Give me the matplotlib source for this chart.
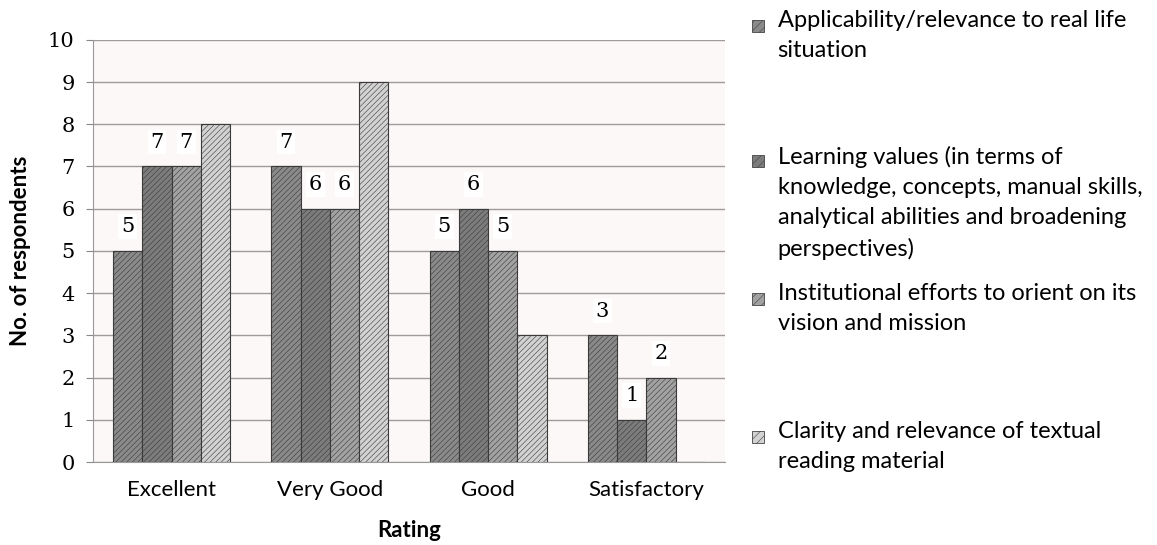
import numpy as np
import matplotlib.pyplot as plt
from matplotlib.patches import Rectangle

# data
ratings = ['Excellent', 'Very Good', 'Good', 'Satisfactory']
applicability = [5, 7, 5, 3]
learning = [7, 6, 6, 1]
institutional = [7, 6, 5, 2]
clarity = [8, 9, 3, 0]

series_names = [
    'Applicability/relevance to real life\nsituation',
    'Learning values (in terms of\nknowledge, concepts, manual skills,\nanalytical abilities and broadening\nperspectives)',
    'Institutional efforts to orient on its\nvision and mission',
    'Clarity and relevance of textual\nreading material',
]
series = [applicability, learning, institutional, clarity]
colors = ['#8a8a8a', '#7c7c7c', '#a2a2a2', '#d2d2d2']
labelled = [True, True, True, False]

plt.rcParams['font.family'] = ['Lato', 'DejaVu Sans']
plt.rcParams['hatch.color'] = '#5a5a5a'
plt.rcParams['hatch.linewidth'] = 0.4

fig = plt.figure(figsize=(11.57, 5.45), dpi=100)
ax = fig.add_axes([0.080, 0.152, 0.547, 0.775])
ax.set_facecolor('#fcf8f8')

x = np.arange(len(ratings))
w = 0.185
for i, (vals, c) in enumerate(zip(series, colors)):
    pos = x + (i - 1.5) * w
    bars = ax.bar(pos, vals, w, color=c, edgecolor='#3a3a3a', linewidth=0.8,
                  hatch='//////', zorder=3)
    if labelled[i]:
        for b, v in zip(bars, vals):
            ax.text(b.get_x() + b.get_width() / 2, v + 0.35, str(v),
                    ha='center', va='bottom', fontsize=15, family='DejaVu Serif',
                    zorder=5, bbox=dict(facecolor='white', edgecolor='none', pad=2))

ax.set_xlim(-0.5, 3.5)
ax.set_ylim(0, 10)
ax.set_yticks(range(0, 11))
ax.tick_params(axis='y', labelsize=15, length=5, color='#888888', pad=8)
ax.tick_params(axis='x', labelsize=16, length=0, pad=13)
for lab in ax.get_yticklabels():
    lab.set_family('DejaVu Serif')
ax.set_xticks(x)
ax.set_xticklabels(ratings)
ax.grid(axis='y', color='#a09a9a', linewidth=1.0, zorder=0)
for s in ['top', 'right']:
    ax.spines[s].set_visible(False)
ax.spines['left'].set_color('#999999')
ax.spines['bottom'].set_color('#999999')

ax.set_ylabel('No. of respondents', fontsize=16, fontweight='bold', labelpad=12)
ax.set_xlabel('Rating', fontsize=16, fontweight='bold', labelpad=14)

# legend drawn by hand to keep the uneven spacing of the original
legend_tops = [0.982, 0.733, 0.481, 0.228]
for name, c, top in zip(series_names, colors, legend_tops):
    fig.add_artist(Rectangle((0.650, top - 0.040), 0.0105, 0.022, transform=fig.transFigure,
                             facecolor=c, edgecolor='#444444', linewidth=0.6, hatch='////'))
    fig.text(0.672, top, name, fontsize=17, va='top', ha='left', linespacing=1.55)

fig.savefig('out.png', dpi=100)
